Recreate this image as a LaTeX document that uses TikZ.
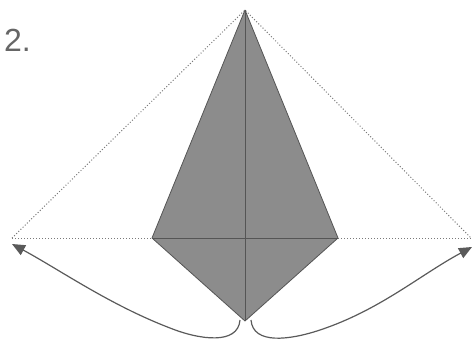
\documentclass[tikz,border=0pt]{standalone}
\usepackage{fontspec}
\setmainfont{Liberation Sans}
\usetikzlibrary{arrows.meta}
\definecolor{kitefill}{HTML}{8C8C8C}
\definecolor{kiteline}{HTML}{555555}
\definecolor{guide}{HTML}{7A7A7A}
\definecolor{arrowc}{HTML}{5A5A5A}
\tikzset{
  guideline/.style={guide, line width=1pt, dotted},
  kite/.style={fill=kitefill, draw=kiteline, line width=0.8pt, line join=round},
  crease/.style={kiteline, line width=0.7pt},
  turn/.style={arrowc, line width=1.2pt, -{Triangle[length=13pt,width=11pt]}},
  label/.style={text=black!60, font=\fontsize{32}{32}\selectfont, inner sep=0pt, anchor=north west}
}
\begin{document}
\begin{tikzpicture}[x=1pt,y=-1pt]
\useasboundingbox (0,0) rectangle (473,343);
\coordinate (T) at (245,10);
\coordinate (L) at (12,238);
\coordinate (R) at (471,238);
\coordinate (KL) at (152,238);
\coordinate (KR) at (338,238);
\coordinate (B) at (245,321);
\node[label] (num) at (4,29) {2.};
% guides
\draw[guideline] (L) -- (T) -- (R);
\draw[guideline] (L) -- (KL);
\draw[guideline] (KR) -- (R);
% kite
\draw[kite] (T) -- (KL) -- (B) -- (KR) -- cycle;
\draw[crease] (T) -- (B);
\draw[crease] (KL) -- (KR);
% arrows
\coordinate (a1s) at (240,320);
\coordinate (a1e) at (12,244);
\coordinate (a2s) at (251,320);
\coordinate (a2e) at (472,247);
\draw[turn] (a1s) .. controls (238,345) and (200,340) .. (170,328) .. controls (110,305) and (60,270) .. (a1e);
\draw[turn] (a2s) .. controls (253,345) and (290,340) .. (320,330) .. controls (380,310) and (420,275) .. (a2e);
\end{tikzpicture}
\end{document}
